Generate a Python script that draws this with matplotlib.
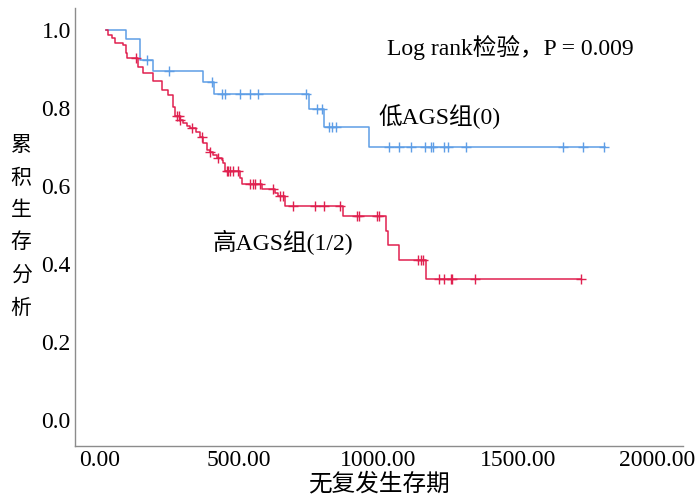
import matplotlib.pyplot as plt
import numpy as np

plt.rcParams['font.family'] = ['Liberation Serif', 'Noto Sans CJK SC']

# low AGS group (0): step times and survival
low_t = [23, 94, 146, 191, 372, 410, 750, 806, 968, 1813]
low_s = [1.0, 0.976, 0.923, 0.895, 0.866, 0.836, 0.797, 0.752, 0.699, 0.699]
low_cens = [171, 250, 405, 440, 449, 504, 540, 567, 741, 779, 797, 824, 835, 847,
            1040, 1075, 1117, 1168, 1189, 1197, 1237, 1249, 1315, 1664, 1735, 1810]

# high AGS group (1/2)
high_t = [23, 32, 46, 56, 85, 94, 98, 139, 157, 193, 223, 247, 265, 271, 288, 301,
          312, 325, 345, 360, 372, 385, 396, 408, 423, 438, 444, 450, 504, 510, 584,
          630, 640, 665, 874, 1028, 1036, 1074, 1171, 1727]
high_s = [1.0, 0.987, 0.978, 0.967, 0.962, 0.94, 0.927, 0.906, 0.889, 0.868, 0.846,
          0.833, 0.803, 0.778, 0.768, 0.761, 0.754, 0.748, 0.737, 0.726, 0.710, 0.692,
          0.686, 0.679, 0.672, 0.667, 0.658, 0.637, 0.620, 0.605, 0.592, 0.581, 0.574,
          0.549, 0.523, 0.485, 0.449, 0.41, 0.361, 0.361]
high_cens = [130, 278, 285, 289, 331, 367, 396, 426, 456, 462, 468, 480, 498, 540, 550,
             558, 576, 623, 647, 659, 695, 773, 805, 862, 925, 932, 994, 1004, 1144,
             1152, 1159, 1219, 1236, 1260, 1266, 1347, 1727]

x_ticks = [0, 500, 1000, 1500, 2000]
y_ticks = [0.0, 0.2, 0.4, 0.6, 0.8, 1.0]

blue = '#5E9EE6'
red = '#E0204F'

W, H = 697, 497
fig = plt.figure(figsize=(W / 100, H / 100), dpi=100)
# axes box in pixels: left 75, right 683, bottom 446, top 8
ax = fig.add_axes([75 / W, (H - 446) / H, (683 - 75) / W, (446 - 8) / H])


def at(times, steps, vals):
    idx = np.searchsorted(steps, times, side='right') - 1
    return np.array(vals)[idx]


for t, s, c, col in [(low_t, low_s, low_cens, blue), (high_t, high_s, high_cens, red)]:
    ax.step(t, s, where='post', color=col, lw=1.1)
    ax.plot(c, at(c, t, s), ls='none', marker='+', ms=7, mew=1.0, color=col)

ax.set_xlim(-88, 2093)
ax.set_ylim(-0.067, 1.056)
ax.set_xticks(x_ticks)
ax.set_xticklabels(['%.2f' % v for v in x_ticks])
ax.set_yticks(y_ticks)
ax.set_yticklabels(['%.1f' % v for v in y_ticks])
ax.tick_params(length=0, labelsize=17, pad=3, colors='black')
for side in ['top', 'right']:
    ax.spines[side].set_visible(False)
for side in ['left', 'bottom']:
    ax.spines[side].set_color('#8c8c8c')
    ax.spines[side].set_linewidth(1.0)

ax.text(1031, 0.956, 'Log rank检验，P = 0.009', fontsize=17, ha='left', va='center')
ax.text(999, 0.777, '低AGS组(0)', fontsize=17, ha='left', va='center')
ax.text(407, 0.454, '高AGS组(1/2)', fontsize=17, ha='left', va='center')

ax.set_xlabel('无复发生存期', fontsize=17, labelpad=1)
ylab = '累积生存分析'
for i, ch in enumerate(ylab):
    fig.text(21 / W, 1 - (145 + i * 32.5) / H, ch, fontsize=15,
             ha='center', va='center', family='Noto Sans CJK SC')

fig.savefig('out.png', dpi=100)
